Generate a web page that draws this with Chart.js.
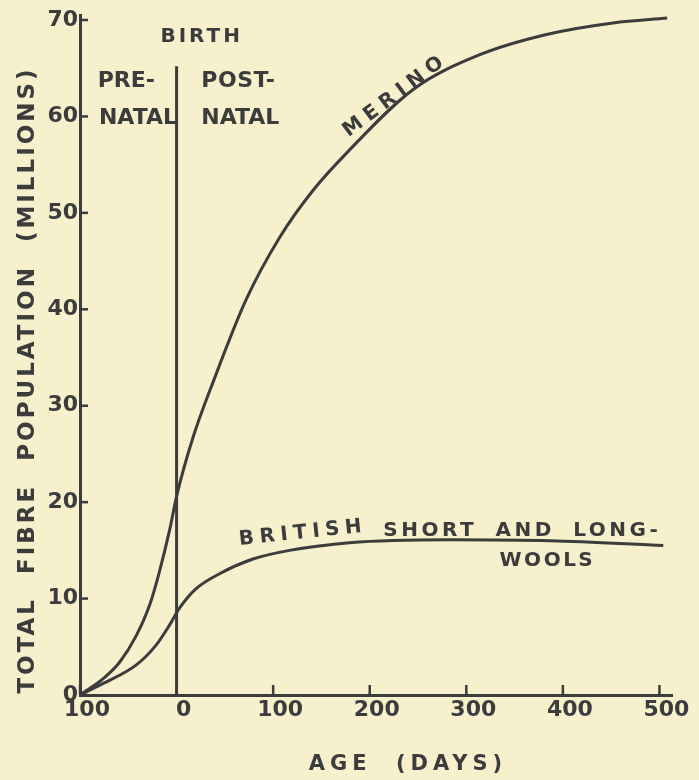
<!DOCTYPE html>
<html>
<head>
<meta charset="utf-8">
<script src="https://cdn.jsdelivr.net/npm/chart.js@4/dist/chart.umd.min.js"></script>
<style>
html, body { margin: 0; padding: 0; background: #f6f0cd; }
canvas { display: block; }
</style>
</head>
<body>
<canvas id="fibreChart" width="699" height="780"></canvas>
<script>
// age in days relative to birth, fibre count in millions
const ageTicks = [-100, 0, 100, 200, 300, 400, 500];
const fibreTicks = [0, 10, 20, 30, 40, 50, 60, 70];

const merinoDays = [-100, -76, -59, -42, -28, -18, -7, 0, 17, 38, 72, 107, 141, 176, 245, 314, 383, 452, 508];
const merinoFibres = [0, 1.7, 3.4, 6.1, 9.3, 12.7, 17.2, 20.6, 26.7, 32.5, 41.0, 47.5, 52.3, 56.2, 62.8, 66.4, 68.5, 69.7, 70.2];

const britishDays = [-100, -76, -42, -21, -7, 3, 20, 45, 79, 117, 179, 283, 387, 504];
const britishFibres = [0, 1.2, 3.1, 5.2, 7.3, 9.0, 11.0, 12.6, 14.1, 15.0, 15.8, 16.1, 16.0, 15.5];

const birthDay = 0;
const birthLineTop = 65.2;

const ink = '#3c3c3c';
const face = "'DejaVu Sans', sans-serif";

function toPoints(xs, ys) {
    return xs.map((x, i) => ({ x: x, y: ys[i] }));
}

// hand lettering on the plot, placed in data units
const notes = [
    { text: 'BIRTH', x: 26, y: 68.3, size: 20, spacing: 3, angle: 0 },
    { text: 'PRE-', x: -52, y: 63.6, size: 22, spacing: 0, angle: 0 },
    { text: 'NATAL', x: -40, y: 59.8, size: 22, spacing: 0, angle: 0 },
    { text: 'POST-', x: 64, y: 63.6, size: 22, spacing: 0.5, angle: 0 },
    { text: 'NATAL', x: 66, y: 59.8, size: 22, spacing: 0, angle: 0 },
    { text: 'MERINO', x: 227, y: 62.2, size: 20, spacing: 6, angle: -37 },
    { text: 'BRITISH', x: 131, y: 16.8, size: 20, spacing: 5.5, angle: -6 },
    { text: 'SHORT AND LONG-', x: 358, y: 17.0, size: 20, spacing: 3.5, angle: 0 },
    { text: 'WOOLS', x: 384, y: 13.9, size: 20, spacing: 2.5, angle: 0 }
];

const handDrawn = {
    id: 'handDrawn',
    afterDraw(chart) {
        const { ctx, scales: { x, y } } = chart;
        ctx.save();
        ctx.strokeStyle = ink;
        ctx.fillStyle = ink;
        ctx.lineWidth = 2.5;

        // inward tick marks
        x.ticks.forEach(t => {
            const px = x.getPixelForValue(t.value);
            ctx.beginPath();
            ctx.moveTo(px, y.bottom);
            ctx.lineTo(px, y.bottom - 10);
            ctx.stroke();
        });
        y.ticks.forEach(t => {
            const py = y.getPixelForValue(t.value);
            ctx.beginPath();
            ctx.moveTo(x.left, py);
            ctx.lineTo(x.left + 8, py);
            ctx.stroke();
        });

        ctx.textAlign = 'center';
        ctx.textBaseline = 'middle';
        notes.forEach(n => {
            ctx.save();
            ctx.translate(x.getPixelForValue(n.x), y.getPixelForValue(n.y));
            ctx.rotate(n.angle * Math.PI / 180);
            ctx.font = 'bold ' + n.size + 'px ' + face;
            ctx.letterSpacing = n.spacing + 'px';
            ctx.wordSpacing = '8px';
            ctx.fillText(n.text, 0, 0);
            ctx.restore();
        });

        // axis titles
        ctx.save();
        ctx.font = 'bold 23px ' + face;
        ctx.letterSpacing = '3px';
        ctx.wordSpacing = '12px';
        ctx.translate(28, 380);
        ctx.rotate(-Math.PI / 2);
        ctx.fillText('TOTAL FIBRE POPULATION (MILLIONS)', 0, 0);
        ctx.restore();

        ctx.save();
        ctx.font = 'bold 21px ' + face;
        ctx.letterSpacing = '5px';
        ctx.wordSpacing = '12px';
        ctx.fillText('AGE (DAYS)', 408, 765);
        ctx.restore();

        ctx.restore();
    }
};

const ctx = document.getElementById('fibreChart').getContext('2d');

const fibreChart = new Chart(ctx, {
    type: 'line',
    data: {
        datasets: [
            {
                label: 'Merino',
                data: toPoints(merinoDays, merinoFibres),
                borderColor: ink,
                borderWidth: 3,
                pointRadius: 0,
                cubicInterpolationMode: 'monotone',
                clip: false
            },
            {
                label: 'British Short and Long-wools',
                data: toPoints(britishDays, britishFibres),
                borderColor: ink,
                borderWidth: 3,
                pointRadius: 0,
                cubicInterpolationMode: 'monotone',
                clip: false
            },
            {
                label: 'Birth',
                data: [{ x: birthDay, y: 0 }, { x: birthDay, y: birthLineTop }],
                borderColor: ink,
                borderWidth: 3,
                pointRadius: 0,
                tension: 0
            }
        ]
    },
    options: {
        responsive: false,
        animation: false,
        layout: { padding: { top: 11, right: 27, bottom: 0, left: 0 } },
        plugins: {
            legend: { display: false },
            tooltip: { enabled: false }
        },
        scales: {
            x: {
                type: 'linear',
                min: -100,
                max: 513,
                afterBuildTicks: s => { s.ticks = ageTicks.map(v => ({ value: v })); },
                afterFit: s => { s.height = 85; },
                grid: { drawOnChartArea: false, drawTicks: false },
                border: { color: ink, width: 3 },
                ticks: {
                    color: ink,
                    font: { family: face, size: 22, weight: 'bold' },
                    padding: 2,
                    labelOffset: 7,
                    maxRotation: 0,
                    callback: v => String(Math.abs(v))
                }
            },
            y: {
                type: 'linear',
                min: 0,
                max: 70.5,
                afterBuildTicks: s => { s.ticks = fibreTicks.map(v => ({ value: v })); },
                afterFit: s => { s.width = 80; },
                grid: { drawOnChartArea: false, drawTicks: false },
                border: { color: ink, width: 3 },
                ticks: {
                    color: ink,
                    font: { family: face, size: 22, weight: 'bold' },
                    padding: 2
                }
            }
        }
    },
    plugins: [handDrawn]
});
</script>
</body>
</html>
